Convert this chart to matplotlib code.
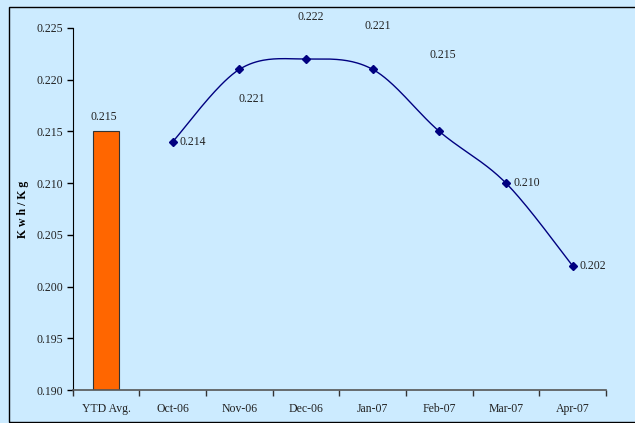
import numpy as np
import matplotlib
matplotlib.use("Agg")
import matplotlib.pyplot as plt
from matplotlib.patches import Rectangle

# Energy consumption per kg: year-to-date average and monthly values
categories = ["YTD Avg.", "Oct-06", "Nov-06", "Dec-06", "Jan-07", "Feb-07", "Mar-07", "Apr-07"]
ytd_avg = 0.215
months = ["Oct-06", "Nov-06", "Dec-06", "Jan-07", "Feb-07", "Mar-07", "Apr-07"]
monthly = [0.214, 0.221, 0.222, 0.221, 0.215, 0.210, 0.202]
y_ticks = [0.190, 0.195, 0.200, 0.205, 0.210, 0.215, 0.220, 0.225]

# label placement (pixel offsets from each point) and alignment
label_offsets = [(7, 0, "left"), (12, -30, "center"), (5, 42, "center"),
                 (5, 43, "center"), (3, 76, "center"), (7, 0, "left"), (7, 0, "left")]

BG = "#CCEBFF"
LINE = "#000080"

plt.rcParams["font.family"] = ["Liberation Serif", "DejaVu Serif"]

fig = plt.figure(figsize=(6.35, 4.23), dpi=100)
fig.patch.set_facecolor(BG)
# chart frame
fig.patches.append(Rectangle((9 / 635, 1 - 422 / 423), 1.0, (422 - 7) / 423,
                             transform=fig.transFigure, fill=False,
                             edgecolor="black", linewidth=1.0, zorder=0))

ax = fig.add_axes([72.7 / 635, 1 - 390 / 423, (606 - 72.7) / 635, (390 - 28) / 423])
ax.set_facecolor(BG)

x = np.arange(len(categories))
ax.bar(x[0], ytd_avg - y_ticks[0], bottom=y_ticks[0], width=0.4,
       color="#FF6600", edgecolor="#333333", linewidth=0.8, zorder=2)
ax.annotate(f"{ytd_avg:.3f}", (x[0], ytd_avg), xytext=(-2, 14),
            textcoords="offset pixels", ha="center", va="center",
            fontsize=8.5, color="#222222")

# smoothed line through monthly values (Catmull-Rom style)
xm = x[1:].astype(float)
ym = np.array(monthly)
px = np.concatenate([[xm[0]], xm, [xm[-1]]])
py = np.concatenate([[ym[0]], ym, [ym[-1]]])
cx, cy = [], []
t = np.linspace(0, 1, 40)
for i in range(1, len(px) - 2):
    p0 = np.array([px[i], py[i]])
    p3 = np.array([px[i + 1], py[i + 1]])
    c1 = p0 + (np.array([px[i + 1], py[i + 1]]) - np.array([px[i - 1], py[i - 1]])) / 6
    c2 = p3 - (np.array([px[i + 2], py[i + 2]]) - np.array([px[i], py[i]])) / 6
    b = ((1 - t) ** 3)[:, None] * p0 + (3 * (1 - t) ** 2 * t)[:, None] * c1 \
        + (3 * (1 - t) * t ** 2)[:, None] * c2 + (t ** 3)[:, None] * p3
    cx.extend(b[:, 0])
    cy.extend(b[:, 1])
ax.plot(cx, cy, color=LINE, linewidth=1.0, zorder=3)
ax.plot(xm, ym, linestyle="none", marker="D", markersize=4,
        color=LINE, zorder=4)

for xi, yi, (dx, dy, ha) in zip(xm, ym, label_offsets):
    ax.annotate(f"{yi:.3f}", (xi, yi), xytext=(dx, dy), textcoords="offset pixels",
                ha=ha, va="center", fontsize=8.5, color="#222222",
                annotation_clip=False)

ax.set_xlim(-0.5, len(categories) - 0.5)
ax.set_ylim(y_ticks[0], y_ticks[-1])
ax.set_yticks(y_ticks)
ax.set_yticklabels([f"{v:.3f}" for v in y_ticks])
ax.set_xticks(x)
ax.set_xticklabels(categories)
ax.set_xticks(np.arange(-0.5, len(categories)), minor=True)
ax.tick_params(axis="x", which="major", length=0, pad=9, labelsize=8.5, labelcolor="#222222")
ax.tick_params(axis="x", which="minor", length=4, width=1.0, color="#333333")
ax.tick_params(axis="y", length=4, width=1.0, pad=3, labelsize=8.5, labelcolor="#222222")

for s in ["top", "right"]:
    ax.spines[s].set_visible(False)
ax.spines["left"].set_color("black")
ax.spines["bottom"].set_color("#555555")
ax.spines["bottom"].set_linewidth(1.2)

ax.set_ylabel("K w h / K g", fontsize=8.5, fontweight="bold", labelpad=8)
ax.yaxis.set_label_coords(-44 / (606 - 72.7), 0.5)

fig.savefig("out.png", dpi=100, facecolor=BG)
